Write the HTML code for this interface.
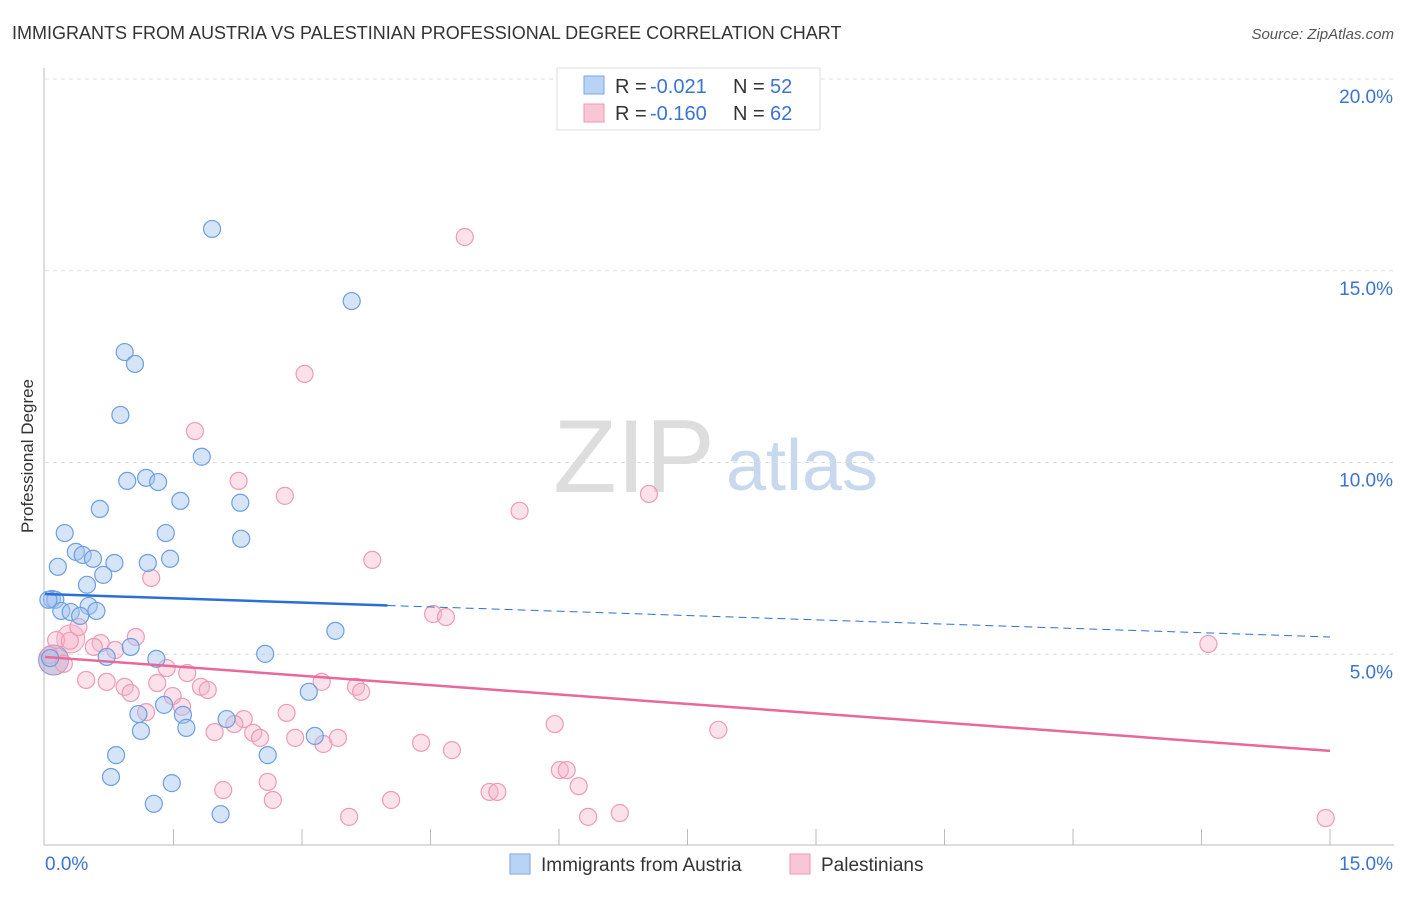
<!DOCTYPE html>
<html><head><meta charset="utf-8">
<style>
body{margin:0;background:#fff;font-family:"Liberation Sans",sans-serif;}
svg text{font-family:"Liberation Sans",sans-serif;}
</style></head>
<body>
<svg id="chart" width="1406" height="892" xmlns="http://www.w3.org/2000/svg">
<text x="12" y="39" font-size="18" fill="#333">IMMIGRANTS FROM AUSTRIA VS PALESTINIAN PROFESSIONAL DEGREE CORRELATION CHART</text>
<text x="1394" y="39" font-size="15" fill="#555" font-style="italic" text-anchor="end">Source: ZipAtlas.com</text>
<text transform="translate(33,456) rotate(-90)" font-size="17" fill="#333" text-anchor="middle">Professional Degree</text>
<g>
<text x="634" y="492" font-size="104" fill="#ddd" font-family="Liberation Serif" text-anchor="middle">ZIP</text>
<text x="802" y="490" font-size="72" fill="#c8d8ef" text-anchor="middle">atlas</text>
</g>
<g id="grid"></g>
<g id="axes"></g>
<g id="pts"></g>
<g id="trends"></g>
<g>
<rect x="557" y="68" width="263" height="62" fill="#fff" stroke="#ddd"/>
<rect x="584" y="76" width="20" height="18" fill="#b9d3f5" stroke="#7aa6e6"/>
<text x="615" y="93" font-size="20" fill="#333">R = </text>
<text x="650" y="93" font-size="20" fill="#3a73d0">-0.021</text>
<text x="733" y="93" font-size="20" fill="#333">N = </text>
<text x="770" y="93" font-size="20" fill="#3a73d0">52</text>
<rect x="584" y="104" width="20" height="18" fill="#f9c6d6" stroke="#ee9ab5"/>
<text x="615" y="120" font-size="20" fill="#333">R = </text>
<text x="650" y="120" font-size="20" fill="#3a73d0">-0.160</text>
<text x="733" y="120" font-size="20" fill="#333">N = </text>
<text x="770" y="120" font-size="20" fill="#3a73d0">62</text>
</g>
<g>
<rect x="510" y="854" width="20" height="20" fill="#b9d3f5" stroke="#7aa6e6"/>
<text x="541" y="871" font-size="19" fill="#333">Immigrants from Austria</text>
<rect x="790" y="854" width="20" height="20" fill="#f9c6d6" stroke="#ee9ab5"/>
<text x="821" y="871" font-size="19" fill="#333">Palestinians</text>
</g>
</svg>
<script>
const blueX=[1.95,3.58,0.93,1.05,0.88,1.83,0.96,1.18,1.32,1.58,0.64,2.28,0.23,1.41,2.29,0.36,0.44,0.56,0.81,1.20,1.46,0.15,0.68,0.49,0.08,0.12,0.51,0.60,0.19,0.30,0.41,3.39,1.00,2.57,0.72,1.30,1.39,3.08,1.09,1.61,2.12,1.65,1.12,3.15,0.83,2.60,0.77,1.48,1.27,2.05,0.06,0.04];
const blueY=[16.09,14.21,12.88,12.57,11.24,10.15,9.52,9.60,9.49,9.00,8.79,8.95,8.16,8.16,8.01,7.67,7.59,7.49,7.38,7.38,7.49,7.28,7.07,6.81,6.44,6.42,6.26,6.13,6.13,6.10,6.00,5.61,5.19,5.01,4.93,4.88,3.68,4.02,3.44,3.42,3.31,3.08,3.00,2.87,2.37,2.37,1.80,1.64,1.10,0.83,4.90,6.42];
const pinkX=[4.90,3.03,1.75,2.26,2.80,7.05,5.54,3.82,1.24,4.53,4.68,13.58,0.13,0.29,0.39,0.65,1.06,0.82,0.57,0.05,0.22,1.42,1.66,0.48,0.72,0.93,1.00,1.31,1.49,1.82,1.90,3.23,3.63,3.69,1.18,1.60,2.82,1.98,2.32,2.21,2.43,2.51,2.92,3.25,3.42,4.39,4.75,5.95,7.86,6.01,6.09,6.23,5.19,5.28,2.08,2.60,2.66,4.04,3.55,6.34,6.71,14.95];
const pinkY=[15.88,12.31,10.82,9.52,9.13,9.18,8.74,7.46,6.99,6.05,5.97,5.27,5.37,5.35,5.71,5.29,5.45,5.11,5.19,4.98,4.75,4.64,4.51,4.33,4.28,4.15,3.99,4.25,3.91,4.15,4.07,4.28,4.15,4.02,3.49,3.63,3.47,2.97,3.31,3.18,2.95,2.82,2.82,2.66,2.82,2.69,2.50,3.18,3.03,1.98,1.98,1.56,1.41,1.41,1.46,1.67,1.20,1.20,0.76,0.76,0.86,0.73];
const yTicks=[5,10,15,20];
const xTickLabels=["0.0%","15.0%"];
const blueTrend=[6.57,5.45];
const pinkTrend=[4.93,2.48];
const X0=45,X1=1330,YB=846,YT=79;
const sx=v=>X0+(v/15)*(X1-X0);
const sy=v=>YB-(v/20)*(YB-YT);
const NS="http://www.w3.org/2000/svg";
function mk(tag,attrs,parent){const e=document.createElementNS(NS,tag);for(const k in attrs)e.setAttribute(k,attrs[k]);parent.appendChild(e);return e;}
const grid=document.getElementById('grid'),axes=document.getElementById('axes'),pts=document.getElementById('pts'),tr=document.getElementById('trends');
yTicks.forEach(t=>{
 const l=mk('line',{x1:45,x2:1394,y1:sy(t),y2:sy(t),stroke:'#ddd','stroke-dasharray':'4,4'},grid);
 
 
 const tx=mk('text',{x:1393,y:sy(t)+24,'font-size':19,fill:'#3a73d0','text-anchor':'end'},grid);
 tx.textContent=t.toFixed(1)+'%';
 
 
});
const ya=mk('line',{x1:44,x2:44,y1:68,y2:845,stroke:'#bbb'},axes);


const xa=mk('line',{x1:44,x2:1394,y1:845,y2:845,stroke:'#bbb'},axes);


for(let i=1;i<=10;i++){
 const t=mk('line',{x1:sx(i*1.5),x2:sx(i*1.5),y1:829,y2:845,stroke:'#bbb'},axes);
 
 
}
const xl0=mk('text',{x:45,y:870,'font-size':19,fill:'#3a73d0'},axes);xl0.textContent=xTickLabels[0];


const xl1=mk('text',{x:1393,y:870,'font-size':19,fill:'#3a73d0','text-anchor':'end'},axes);xl1.textContent=xTickLabels[1];


const bp=mk('circle',{cx:sx(0.3),cy:sy(5.4),r:14,fill:'rgba(246,180,200,0.45)',stroke:'#ee9ab5'},pts);


const bb=mk('circle',{cx:sx(0.1),cy:sy(4.85),r:15,fill:'rgba(170,160,200,0.55)',stroke:'#9a90c8'},pts);


pinkX.forEach((x,i)=>{
 const c=mk('circle',{cx:sx(x),cy:sy(pinkY[i]),r:8.5,fill:'rgba(246,180,200,0.4)',stroke:'#ee9ab5','stroke-width':1.2},pts);
 
 
});
blueX.forEach((x,i)=>{
 const c=mk('circle',{cx:sx(x),cy:sy(blueY[i]),r:8.5,fill:'rgba(164,196,240,0.45)',stroke:'#6c9ee0','stroke-width':1.2},pts);
 
 
});
const by=x=>blueTrend[0]+(blueTrend[1]-blueTrend[0])*x/15;
const l1=mk('line',{x1:sx(0),y1:sy(by(0)),x2:sx(4),y2:sy(by(4)),stroke:'#2a6fd6','stroke-width':2.5},tr);


const l2=mk('line',{x1:sx(4),y1:sy(by(4)),x2:sx(15),y2:sy(by(15)),stroke:'#2a6fd6','stroke-width':1,'stroke-dasharray':'8,5'},tr);


const l3=mk('line',{x1:sx(0),y1:sy(pinkTrend[0]),x2:sx(15),y2:sy(pinkTrend[1]),stroke:'#e8689a','stroke-width':2.5},tr);


</script>
</body></html>
